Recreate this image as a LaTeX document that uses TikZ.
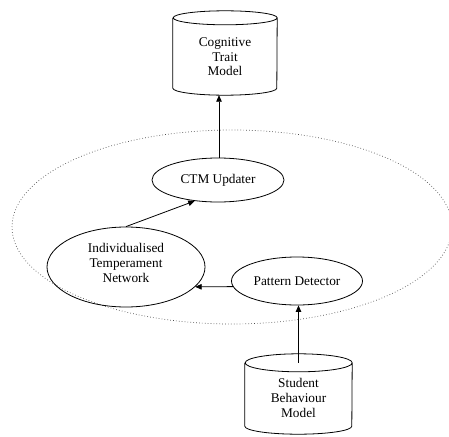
\documentclass[tikz,border=0pt]{standalone}
\usepackage{fontspec}
\setmainfont{Liberation Serif}
\usetikzlibrary{shapes.geometric,arrows.meta}

% centred multi-line label, moved vertically without changing its box
\newcommand{\stack}[2][0pt]{\raisebox{#1}[\height][\depth]{\begin{tabular}{@{}c@{}}#2\end{tabular}}}

\tikzset{
  every picture/.style={line join=round},
  labelfont/.style={font=\fontsize{13.3}{15}\selectfont},
  proc/.style={ellipse, draw, line width=0.8pt, inner sep=0pt,
    align=center, labelfont},
  store/.style={rectangle, inner sep=0pt, align=center, labelfont},
  drum/.style={draw, line width=0.8pt},
  link/.style={draw, line width=0.8pt, -{Triangle[length=6.5pt,width=5.5pt]}},
  scopering/.style={draw=black!70, line width=0.7pt, dash pattern=on 0.7pt off 2.2pt}
}

\begin{document}
\begin{tikzpicture}[x=1pt,y=1pt]
  \useasboundingbox (0,0) rectangle (449,-436);

  % dotted boundary around the inner processing components
  \draw[scopering] (232,-227) ellipse [x radius=220, y radius=97];

  % data stores (cylinders)
  \node[store, minimum width=104pt, minimum height=84pt] (ctmodel) at (225,-53)
    {\stack[-5pt]{Cognitive\\Trait\\Model}};
  \draw[drum] ([yshift=-7pt]ctmodel.north west) -- ([yshift=7pt]ctmodel.south west)
    arc[start angle=180, end angle=360, x radius=52pt, y radius=7pt]
    -- ([yshift=-7pt]ctmodel.north east)
    arc[start angle=0, end angle=360, x radius=52pt, y radius=7pt];

  \node[store, minimum width=107pt, minimum height=80pt] (sbm) at (298.5,-394)
    {\stack[-5pt]{Student\\Behaviour\\Model}};
  \draw[drum] ([yshift=-9pt]sbm.north west) -- ([yshift=8pt]sbm.south west)
    arc[start angle=180, end angle=360, x radius=53.5pt, y radius=8pt]
    -- ([yshift=-9pt]sbm.north east)
    arc[start angle=0, end angle=360, x radius=53.5pt, y radius=9pt];

  % processing components
  \node[proc, minimum width=132pt, minimum height=44pt] (ctm) at (218,-180) {CTM Updater};
  \node[proc, minimum width=158pt, minimum height=80pt] (itn) at (126,-267)
    {\stack[3pt]{Individualised\\Temperament\\Network}};
  \node[proc, minimum width=131pt, minimum height=48pt] (pd) at (297,-281) {Pattern Detector};

  % information flow
  \draw[link] ([yshift=-9pt]sbm.north) -- (sbm.north |- pd.south);
  \draw[link] (pd.185) -- (itn.-16);
  \draw[link] (itn.north) -- (ctm.222);
  \draw[link] (219,0 |- ctm.north) -- (219,0 |- ctmodel.south);
\end{tikzpicture}
\end{document}
